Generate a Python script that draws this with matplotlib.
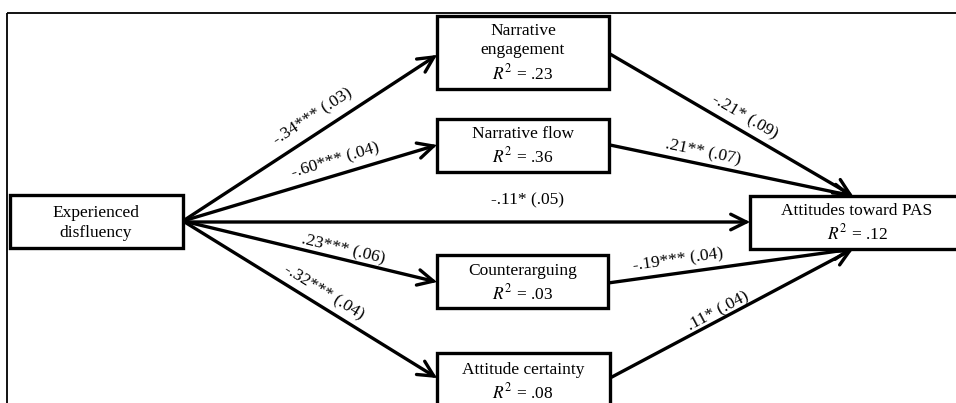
import math
import matplotlib
matplotlib.use("Agg")
import matplotlib.pyplot as plt
from matplotlib.patches import Rectangle, FancyArrowPatch

plt.rcParams['font.family'] = ['Liberation Serif', 'DejaVu Serif']
plt.rcParams['mathtext.fontset'] = 'stix'

# ---- data ----
node_names = ["Experienced\ndisfluency", "Narrative\nengagement", "Narrative flow",
              "Counterarguing", "Attitude certainty", "Attitudes toward PAS"]
node_r2 = [None, ".23", ".36", ".03", ".08", ".12"]
path_from = [0, 0, 0, 0, 0, 1, 2, 3, 4]
path_to = [1, 2, 5, 3, 4, 5, 5, 5, 5]
path_coef = ["-.34***", "-.60***", "-.11*", ".23***", "-.32***", "-.21*", ".21**", "-.19***", ".11*"]
path_se = ["(.03)", "(.04)", "(.05)", "(.06)", "(.04)", "(.09)", "(.07)", "(.04)", "(.04)"]

# ---- layout (pixel coordinates, y downward) ----
box_xy = [(10, 195, 183, 248), (437, 16, 609, 89), (437, 119, 609, 172),
          (437, 255, 608, 308), (437, 353, 610, 420), (750, 196, 965, 249)]
text_center = [(96, 223), (523, 53), (523, 146), (523, 283), (523, 382), (857, 223)]
path_start = [(183, 221), (183, 221), (183, 222), (183, 221), (183, 221),
              (610, 54), (610, 145), (608, 283), (610, 378)]
path_end = [(437, 55), (437, 145), (750, 222), (437, 282), (437, 378),
            (853, 196), (853, 196), (853, 249), (853, 249)]
label_pos = [(313, 117), (335, 161), (528, 200), (343, 250), (324, 292),
             (745, 117), (703, 152), (678, 260), (718, 311)]

W, H = 956, 403
fig = plt.figure(figsize=(W / 100, H / 100), dpi=100)
ax = fig.add_axes([0, 0, 1, 1])
ax.set_xlim(0, W)
ax.set_ylim(H, 0)
ax.axis('off')

# outer frame (top and left)
ax.plot([7, W], [13, 13], color='black', lw=1.3, solid_capstyle='butt')
ax.plot([7, 7], [13, H], color='black', lw=1.3, solid_capstyle='butt')

FS = 12.5
for (x0, y0, x1, y1), name, r2, (cx, cy) in zip(box_xy, node_names, node_r2, text_center):
    ax.add_patch(Rectangle((x0, y0), x1 - x0, y1 - y0, fill=True, facecolor='white',
                           edgecolor='black', lw=2.4, zorder=3, clip_on=True))
    txt = name if r2 is None else name + "\n" + r"$R^2$ = " + r2
    ax.text(cx, cy, txt, ha='center', va='center', fontsize=FS, zorder=4,
            linespacing=1.3, multialignment='center')

for (sx, sy), (ex, ey), (lx, ly), c, s in zip(path_start, path_end, label_pos, path_coef, path_se):
    arr = FancyArrowPatch((sx, sy), (ex, ey),
                          arrowstyle='->,head_length=0.8,head_width=0.4',
                          mutation_scale=14, lw=2.4, color='black',
                          shrinkA=0, shrinkB=0, zorder=2, joinstyle='miter')
    ax.add_patch(arr)
    ang = math.degrees(math.atan2(sy - ey, ex - sx))
    ax.text(lx, ly, f"{c} {s}", ha='center', va='center', rotation=ang,
            rotation_mode='anchor', fontsize=FS, zorder=4)

fig.savefig("out.png", dpi=100)
